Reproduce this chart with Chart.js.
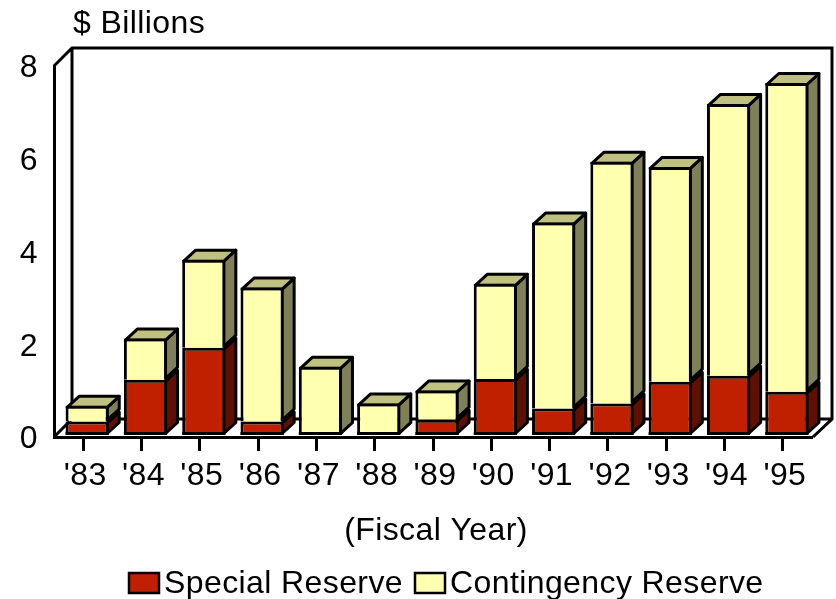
<!DOCTYPE html>
<html>
<head>
<meta charset="utf-8">
<style>
  body { margin: 0; background: #fff; }
  canvas { display: block; }
</style>
<script src="https://cdn.jsdelivr.net/npm/chart.js@4"></script>
</head>
<body>
<canvas id="reserveChart" width="836" height="599"></canvas>
<script>
var years = ["'83", "'84", "'85", "'86", "'87", "'88", "'89", "'90", "'91", "'92", "'93", "'94", "'95"];
var specialReserve = [0.29, 1.19, 1.88, 0.29, 0, 0, 0.33, 1.21, 0.57, 0.68, 1.15, 1.28, 0.93];
var contingencyReserve = [0.34, 0.89, 1.90, 2.89, 1.47, 0.68, 0.63, 2.05, 4.01, 5.21, 4.63, 5.86, 6.66];
var yTicks = [0, 2, 4, 6, 8];

var FONT = '"Liberation Sans", Arial, sans-serif';
var depthX = 12, depthY = 11;   // how far the bars go back
var barShiftX = 4, barShiftY = -2;   // bars sit a bit off the tick marks

function poly(ctx, pts, fill) {
    ctx.beginPath();
    ctx.moveTo(pts[0][0], pts[0][1]);
    for (var i = 1; i < pts.length; i++) ctx.lineTo(pts[i][0], pts[i][1]);
    ctx.closePath();
    if (fill) { ctx.fillStyle = fill; ctx.fill(); }
    ctx.stroke();
}

function nudgeLabels(chart, scale, dx, dy) {
    if (scale.labelsMoved) return;
    scale.labelsMoved = true;
    var drawLabels = scale.drawLabels;
    scale.drawLabels = function(area) {
        chart.ctx.save();
        chart.ctx.translate(dx, dy);
        drawLabels.call(scale, area);
        chart.ctx.restore();
    };
}

var box3d = {
    id: 'box3d',
    beforeDraw: function(chart) {
        chart.ctx.letterSpacing = '0.4px';
    },
    afterLayout: function(chart) {
        nudgeLabels(chart, chart.scales.x, 2, 0);
        nudgeLabels(chart, chart.scales.y, 0, 2.5);
    },
    beforeDatasetsDraw: function(chart) {
        var ctx = chart.ctx, a = chart.chartArea;
        // back wall and floor
        var wallL = a.left + 18, wallT = a.top - 18, wallR = a.right + 20, floorB = a.bottom - 18;
        ctx.save();
        ctx.strokeStyle = '#000';
        ctx.lineWidth = 3;
        ctx.lineJoin = 'miter';
        ctx.beginPath();
        ctx.moveTo(a.left, a.top);
        ctx.lineTo(wallL, wallT);
        ctx.lineTo(wallR, wallT);
        ctx.lineTo(wallR, floorB);
        ctx.lineTo(a.right + 1, a.bottom);
        ctx.moveTo(a.left, a.bottom);
        ctx.lineTo(wallL, floorB);
        ctx.lineTo(wallR, floorB);
        ctx.moveTo(wallL, wallT);
        ctx.lineTo(wallL, floorB);
        ctx.stroke();
        ctx.restore();

        // side and top faces, shifted the same way as the bars
        ctx.save();
        ctx.translate(barShiftX, barShiftY);
        ctx.strokeStyle = '#000';
        ctx.lineWidth = 3;
        ctx.lineJoin = 'round';
        chart.data.datasets.forEach(function(ds, d) {
            chart.getDatasetMeta(d).data.forEach(function(bar) {
                var r = bar.x + bar.width / 2 - 1.5, l = bar.x - bar.width / 2 + 1.5;
                var t = bar.y + 1.5, b = bar.base - 1.5;
                if (t > b) t = b;
                poly(ctx, [[r, t], [r + depthX, t - depthY], [r + depthX, b - depthY], [r, b]], ds.sideColor);
                if (d === chart.data.datasets.length - 1) {
                    poly(ctx, [[l, t], [l + depthX, t - depthY], [r + depthX, t - depthY], [r, t]], ds.topColor);
                }
            });
        });
        ctx.restore();

        ctx.save();
        ctx.translate(barShiftX, barShiftY);
    },
    afterDatasetsDraw: function(chart) {
        var ctx = chart.ctx;
        // bottom edge of every stack, also where the lower part is zero
        ctx.strokeStyle = '#000';
        ctx.lineWidth = 3;
        chart.getDatasetMeta(0).data.forEach(function(bar) {
            ctx.beginPath();
            ctx.moveTo(bar.x - bar.width / 2, bar.base - 1.5);
            ctx.lineTo(bar.x + bar.width / 2, bar.base - 1.5);
            ctx.stroke();
        });
        ctx.restore();
    },
    afterDraw: function(chart) {
        var ctx = chart.ctx;
        ctx.save();
        ctx.font = '32px ' + FONT;
        ctx.fillStyle = '#000';
        ctx.textBaseline = 'middle';
        ctx.textAlign = 'left';
        ctx.fillText('$ Billions', 73, 24);

        ctx.textAlign = 'center';
        ctx.fillText('(Fiscal Year)', 436, 531);
        ctx.textAlign = 'left';

        // legend: box sits closer to its text than the built in one allows
        var startX = [129, 415];
        chart.data.datasets.forEach(function(ds, d) {
            ctx.fillStyle = ds.backgroundColor;
            ctx.strokeStyle = '#000';
            ctx.lineWidth = 2.5;
            ctx.fillRect(startX[d], 573, 30, 20);
            ctx.strokeRect(startX[d], 573, 30, 20);
            ctx.fillStyle = '#000';
            ctx.fillText(ds.label, startX[d] + 35, 584);
        });
        ctx.restore();
    }
};

new Chart(document.getElementById('reserveChart'), {
    type: 'bar',
    data: {
        labels: years,
        datasets: [
            {
                label: 'Special Reserve',
                data: specialReserve,
                backgroundColor: '#C02000',
                sideColor: '#601000',
                borderColor: '#000',
                borderWidth: 3,
                borderSkipped: 'bottom'
            },
            {
                label: 'Contingency Reserve',
                data: contingencyReserve,
                backgroundColor: '#FFFFB0',
                sideColor: '#808058',
                topColor: '#C0C080',
                borderColor: '#000',
                borderWidth: 3,
                borderSkipped: 'bottom'
            }
        ]
    },
    options: {
        responsive: false,
        animation: false,
        layout: { padding: { top: 66, right: 24, left: 0, bottom: 0 } },
        barPercentage: 0.74,
        categoryPercentage: 1,
        plugins: {
            legend: { display: false },
            title: { display: false },
            tooltip: { enabled: false }
        },
        scales: {
            x: {
                stacked: true,
                afterFit: function(scale) { scale.height = 162; },
                border: { display: true, color: '#000', width: 3 },
                grid: { offset: false, drawOnChartArea: false, drawTicks: true, tickLength: 14, tickWidth: 3, tickColor: '#000' },
                ticks: { color: '#000', font: { family: FONT, size: 32 }, padding: 6, maxRotation: 0, autoSkip: false }
            },
            y: {
                stacked: true,
                min: 0,
                max: 8,
                afterFit: function(scale) { scale.width = 54; },
                afterBuildTicks: function(scale) {
                    scale.ticks = yTicks.map(function(v) { return { value: v }; });
                },
                border: { display: true, color: '#000', width: 3 },
                grid: { display: false, drawTicks: false },
                ticks: { color: '#000', font: { family: FONT, size: 32 }, padding: 16 }
            }
        }
    },
    plugins: [box3d]
});
</script>
</body>
</html>
